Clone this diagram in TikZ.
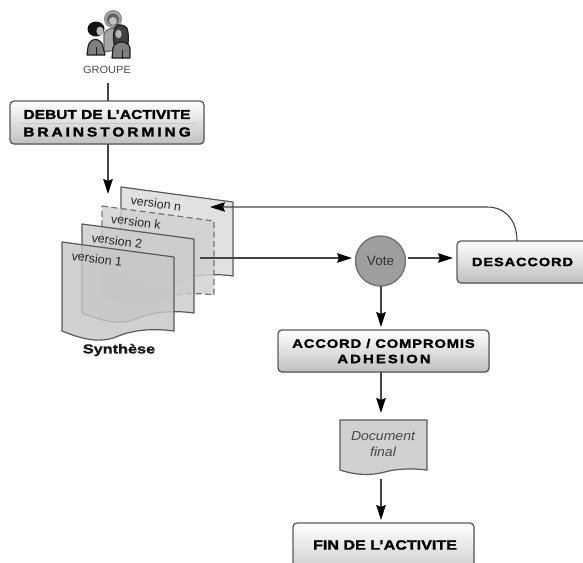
\documentclass[tikz,border=0pt]{standalone}
\usepackage{fontspec}
\setmainfont{Liberation Sans}
\newfontfamily\boxfont{Liberation Sans Bold}[FakeStretch=1.2,FakeBold=1.8]
\newfontfamily\spacedfont{Liberation Sans Bold}[FakeStretch=1.2,FakeBold=1.8,LetterSpace=22]
\newfontfamily\midfont{Liberation Sans Bold}[FakeStretch=1.22,FakeBold=1.8,LetterSpace=7]
\newfontfamily\adhfont{Liberation Sans Bold}[FakeStretch=1.22,FakeBold=1.8,LetterSpace=18]
\newfontfamily\synfont{Liberation Sans Bold}[FakeStretch=1.25,FakeBold=1.6]
\newfontfamily\docfont{Liberation Sans Italic}[FakeStretch=1.08]
\newfontfamily\grpfont{Liberation Sans}[FakeStretch=1.05]
\usetikzlibrary{arrows.meta,shadows}
\definecolor{linegray}{HTML}{444444}
\definecolor{edgegray}{HTML}{5A5A5A}
\tikzset{
  x=1pt,y=-1pt,
  conn/.style={draw=linegray,line width=1.3pt},
  arrowconn/.style={conn,-{Stealth[length=15pt,width=9.5pt,inset=2pt,black]}},
  flowbox/.style={draw=edgegray,line width=1.3pt,rounded corners=4pt,top color=white,bottom color=black!25,
    drop shadow={shadow xshift=0.6pt,shadow yshift=-0.6pt,opacity=.25,fill=black},
    inner sep=0pt,align=center,text=black!92},
  sheetbox/.style={draw=edgegray,line width=1.2pt,fill opacity=.82,line join=round},
  sheetk/.style={sheetbox,draw=black!55,dashed,dash pattern=on 6pt off 3.5pt},
  verlabel/.style={rotate=-7.5,font=\fontsize{12.5}{14}\selectfont,text=black!85,inner sep=0pt},
  person/.style={draw=black!88,line width=1.2pt,line join=round},
}
\newcommand\pagesheet[3]{%
  \begin{scope}[shift={(#1,#2)}]
    \path[#3] (0,0) -- (112,15) -- (112,89)
      .. controls (90,86) and (70,88) .. (54,95)
      .. controls (38,101) and (22,98) .. (0,89) -- cycle;
  \end{scope}}
\begin{document}
\begin{tikzpicture}
\useasboundingbox (0,0) rectangle (583,562);
\clip (0,0) rectangle (583,562);

% group icon
\fill[black!35,draw=black!45,line width=1pt] (113,19) circle (8.5);
\fill[black!62] (113,19.5) circle (6);
\fill[black!25] (113,21) circle (4);
\path[person,draw=black!60,fill=black!35] (104,52) -- (104,34) .. controls (105,28) and (120,26) .. (127,28) -- (128,48) -- cycle;
\path[person,fill=black!75] (117,25) .. controls (128,24) and (129,30) .. (128,44) -- (114,44) .. controls (113,36) and (113,30) .. (117,25) -- cycle;
\path[person,fill=black!50] (87,55) -- (88,47) .. controls (90,37) and (101,37) .. (103,47) -- (105,55) -- cycle;
\draw[black!90,line width=1pt] (96,47) -- (96,55);
\fill[black!92] (96,29) ellipse (8.5 and 7.5);
\fill[black!28] (100,31) ellipse (3.6 and 4.5);
\path[person,fill=black!50] (112,58) -- (113,48) .. controls (115,40) and (128,40) .. (130,48) -- (130,58) -- cycle;
\draw[black!90,line width=1pt] (122,50) -- (122,59);
\fill[black!28] (118.5,34) ellipse (3.2 and 4.2);
\node[inner sep=0pt,font=\grpfont\fontsize{10.5}{12}\selectfont,text=black!70] (groupe) at (107,70) {GROUPE};

\node[flowbox,minimum width=194pt,minimum height=43pt] (debut) at (107,122.5) {};
\coordinate (ruleL) at (21,123.5);
\coordinate (ruleR) at (196,123.5);
\draw[black!22,line width=.4pt] (ruleL) -- (ruleR);
\node[inner sep=0pt,font=\boxfont\fontsize{12.9}{14}\selectfont] (debutA) at (107,114.5) {DEBUT DE L’ACTIVITE};
\node[inner sep=0pt,font=\spacedfont\fontsize{13}{14}\selectfont] (debutB) at (107,132) {BRAINSTORMING};

% sheets
\pagesheet{121}{187}{sheetbox,fill=black!14}
\pagesheet{102}{206}{sheetk,fill=black!18}
\pagesheet{82}{224}{sheetbox,fill=black!20}
\pagesheet{62}{242}{sheetbox,fill=black!22}
\node[verlabel] (vn) at (156,203.5) {version n};
\node[verlabel] (vk) at (136,222) {version k};
\node[verlabel] (v2) at (117,241) {version 2};
\node[verlabel] (v1) at (97,259) {version 1};
\node[inner sep=0pt,font=\synfont\fontsize{13}{14}\selectfont,text=black!90] (syn) at (119,350) {Synthèse};

% other nodes
\node[circle,draw=black!55,line width=1.4pt,fill=black!38,minimum size=50pt,inner sep=0pt,
  font=\fontsize{13.5}{15}\selectfont,text=black!80] (vote) at (380.5,261) {Vote};
\node[flowbox,minimum width=134pt,minimum height=42pt] (des) at (524,262) {};
\node[inner sep=0pt,font=\midfont\fontsize{12}{14}\selectfont] (desT) at (522.5,262) {DESACCORD};
\node[flowbox,minimum width=211pt,minimum height=42pt] (acc) at (383.5,351) {};
\node[inner sep=0pt,font=\midfont\fontsize{12.1}{14}\selectfont] (accA) at (383.5,343.5) {ACCORD / COMPROMIS};
\node[inner sep=0pt,font=\adhfont\fontsize{12.1}{14}\selectfont] (accB) at (384,359) {ADHESION};
\path[draw=edgegray,line width=1.2pt,fill=black!18] (340,420) -- (427,420) -- (427,470)
  .. controls (410,468) and (395,469) .. (385,472) .. controls (370,476) and (355,475) .. (340,470) -- cycle;
\node[inner sep=0pt,font=\docfont\fontsize{13}{15.5}\selectfont,text=black!72,align=center] (doc) at (383,444) {Document\\final};
\node[flowbox,minimum width=181pt,minimum height=60pt] (fin) at (383.5,553) {};
\node[inner sep=0pt,font=\boxfont\fontsize{13.4}{14}\selectfont] (finT) at (385,545) {FIN DE L’ACTIVITE};

% connectors
\coordinate (gEnd) at (108,83);
\coordinate (debutTop) at (108,101);
\coordinate (debutBot) at (108,144);
\coordinate (sheetsIn) at (108,194);
\coordinate (sheetsOut) at (200,258);
\coordinate (voteIn) at (352,258);
\coordinate (voteOut) at (408,258);
\coordinate (desIn) at (453,258);
\coordinate (desTop) at (517,241);
\coordinate (retA) at (487,207);
\coordinate (retEnd) at (210,207);
\coordinate (voteBot) at (381,286);
\coordinate (accIn) at (381,327);
\coordinate (accBot) at (381,372);
\coordinate (docIn) at (381,413);
\coordinate (docOut) at (381,479);
\coordinate (finIn) at (381,520);
\draw[conn] (gEnd) -- (debutTop);
\draw[arrowconn] (debutBot) -- (sheetsIn);
\draw[arrowconn] (sheetsOut) -- (voteIn);
\draw[arrowconn] (voteOut) -- (desIn);
\draw[arrowconn,line width=1.1pt] (desTop) .. controls (517,220) and (505,207) .. (retA) -- (retEnd);
\draw[arrowconn,line width=1.6pt] (voteBot) -- (accIn);
\draw[arrowconn,line width=1.6pt] (accBot) -- (docIn);
\draw[arrowconn,line width=1.6pt] (docOut) -- (finIn);
\end{tikzpicture}
\end{document}
